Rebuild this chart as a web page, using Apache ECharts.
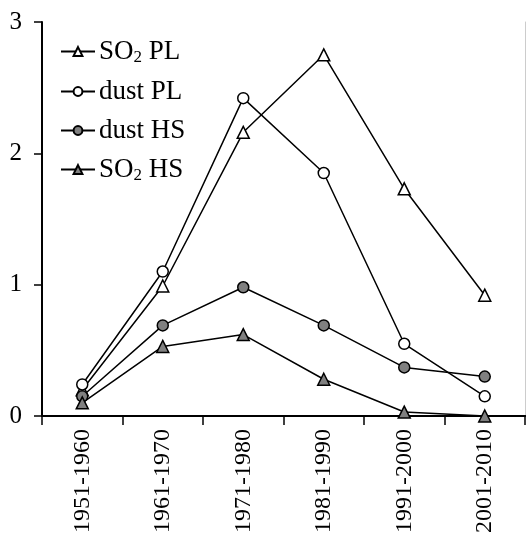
<!DOCTYPE html>
<html>
<head>
<meta charset="utf-8">
<script src="https://cdn.jsdelivr.net/npm/echarts@6/dist/echarts.min.js"></script>
<style>html,body{margin:0;padding:0;background:#fff}#c{width:527px;height:538px}</style>
</head>
<body>
<div id="c"></div>
<script>
const categories = ['1951-1960','1961-1970','1971-1980','1981-1990','1991-2000','2001-2010'];
const so2PL  = [0.20, 0.99, 2.16, 2.75, 1.73, 0.92];
const dustPL = [0.24, 1.10, 2.42, 1.85, 0.55, 0.15];
const dustHS = [0.15, 0.69, 0.98, 0.69, 0.37, 0.30];
const so2HS  = [0.10, 0.53, 0.62, 0.28, 0.03, 0.00];
const yTicks = [0, 1, 2, 3];

const FONT = 'Liberation Serif';
const chart = echarts.init(document.getElementById('c'), null, {renderer:'canvas'});
function ser(name, data, symbol, fill) {
  return {
    name, type:'line', data, symbol, symbolSize: symbol==='circle'?11:12,
    lineStyle:{color:'#000', width:1.5},
    itemStyle:{color:fill, borderColor:'#000', borderWidth:1.5},
    emphasis:{disabled:true}, animation:false
  };
}
chart.setOption({
  animation:false,
  grid:{left:42, right:2, top:22, bottom:122, containLabel:false},
  legend:{
    orient:'vertical', left:55, top:33, itemGap:12, itemWidth:34, itemHeight:11,
    data:['SO2 PL','dust PL','dust HS','SO2 HS'],
    formatter: n => n.replace('SO2', 'SO{sub|2}'),
    textStyle:{fontFamily:FONT, fontSize:27, color:'#000', padding:[0,0,0,-1],
      rich:{sub:{fontFamily:FONT, fontSize:17, color:'#000', padding:[12,0,0,0]}}}
  },
  xAxis:[{
    type:'category', data:categories, boundaryGap:true,
    axisLine:{lineStyle:{color:'#000', width:2}},
    axisTick:{show:true, length:9, lineStyle:{color:'#000', width:1.5}},
    axisLabel:{rotate:90, fontFamily:FONT, fontSize:24, color:'#000', margin:13},
    splitLine:{show:false}
  },{
    type:'category', data:categories, position:'top',
    axisLine:{lineStyle:{color:'#000', width:2}},
    axisTick:{show:false}, axisLabel:{show:false}, splitLine:{show:false}
  }],
  yAxis:[{
    type:'value', min:yTicks[0], max:yTicks[yTicks.length-1], interval:1,
    axisLine:{show:true, lineStyle:{color:'#000', width:2}},
    axisTick:{show:true, length:8, lineStyle:{color:'#000', width:1.5}},
    axisLabel:{fontFamily:FONT, fontSize:25, color:'#000', margin:20},
    splitLine:{show:false}
  },{
    type:'value', min:0, max:3, position:'right',
    axisLine:{show:true, lineStyle:{color:'#ccc', width:1}},
    axisTick:{show:false}, axisLabel:{show:false}, splitLine:{show:false}
  }],
  series:[
    ser('SO2 PL', so2PL, 'triangle', '#fff'),
    ser('dust PL', dustPL, 'circle', '#fff'),
    ser('dust HS', dustHS, 'circle', '#808080'),
    ser('SO2 HS', so2HS, 'triangle', '#808080')
  ]
});
</script>
</body>
</html>
